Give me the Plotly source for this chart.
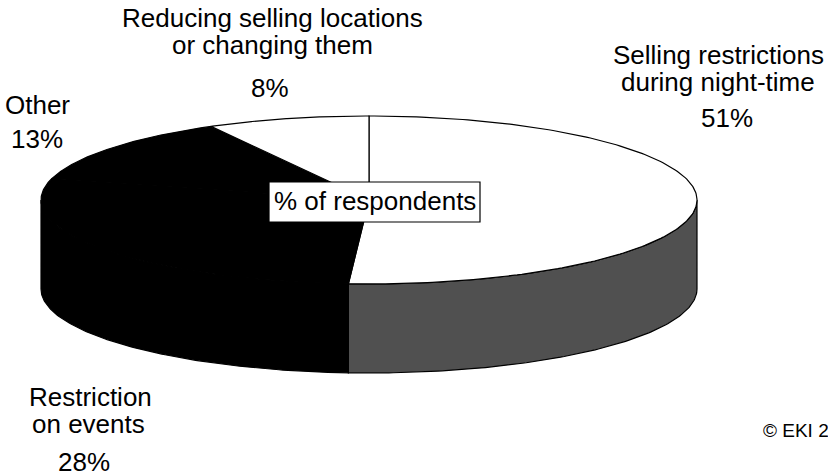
import numpy as np
import plotly.graph_objects as go

# ---- data ----
labels = ["Selling restrictions during night-time", "Restriction on events",
          "Other", "Reducing selling locations or changing them"]
values = [51, 28, 13, 8]
top_colors = ["#ffffff", "#000000", "#000000", "#ffffff"]
side_colors = ["#505050", "#000000", "#000000", "#ffffff"]

label_lines = [
    ["Selling restrictions", "during night-time", "51%"],
    ["Restriction", "on events", "28%"],
    ["Other", "13%"],
    ["Reducing selling locations", "or changing them", "8%"],
]
center_label = "% of respondents"
copyright_text = "© EKI 20"

# ---- geometry (pixel space of the 828x475 canvas) ----
W, H = 828, 475
cx, cy, rx, ry, depth = 369, 200, 328, 84, 89


def ell(theta_deg, dy=0.0):
    t = np.radians(theta_deg)
    return cx + rx * np.sin(t), cy - ry * np.cos(t) + dy


fig = go.Figure()

total = float(sum(values))
bounds = np.concatenate([[0], np.cumsum(values) / total * 360.0])

# side walls (front half only: 90..270 deg clockwise from top)
for i in range(len(values)):
    a1, a2 = max(bounds[i], 90.0), min(bounds[i + 1], 270.0)
    if a2 <= a1:
        continue
    th = np.linspace(a1, a2, 120)
    xt, yt = ell(th)
    xb, yb = ell(th[::-1], depth)
    xs = np.concatenate([xt, xb, [xt[0]]])
    ys = np.concatenate([yt, yb, [yt[0]]])
    fig.add_trace(go.Scatter(x=xs, y=ys, fill="toself", mode="lines",
                             fillcolor=side_colors[i],
                             line=dict(color="#000000", width=1.2),
                             hoverinfo="skip", showlegend=False))

# top faces
for i in range(len(values)):
    th = np.linspace(bounds[i], bounds[i + 1], 200)
    xt, yt = ell(th)
    xs = np.concatenate([[cx], xt, [cx]])
    ys = np.concatenate([[cy], yt, [cy]])
    fig.add_trace(go.Scatter(x=xs, y=ys, fill="toself", mode="lines",
                             fillcolor=top_colors[i],
                             line=dict(color="#000000", width=1.2),
                             hoverinfo="skip", showlegend=False, name=labels[i]))

font = dict(family="Liberation Sans, Arial, sans-serif", size=26, color="#000000")

# label positions (x centre, y centre of each line) in pixels
label_pos = [
    [(718, 55), (718, 82), (727, 118)],
    [(90, 397), (88, 424), (84, 462)],
    [(37, 105), (37, 139)],
    [(272, 18), (272, 45), (270, 88)],
]
for lines, poss in zip(label_lines, label_pos):
    for txt, (px, py) in zip(lines, poss):
        fig.add_annotation(x=px, y=py, xref="x", yref="y", text=txt,
                           showarrow=False, xanchor="center", yanchor="middle",
                           font=font)

# centre label box
fig.add_shape(type="rect", x0=269, x1=480, y0=182, y1=222, xref="x", yref="y",
              fillcolor="#ffffff", line=dict(color="#000000", width=1.2))
fig.add_annotation(x=374.5, y=201, xref="x", yref="y", text=center_label,
                   showarrow=False, xanchor="center", yanchor="middle", font=font)

fig.add_annotation(x=761, y=430, xref="x", yref="y", text=copyright_text,
                   showarrow=False, xanchor="left", yanchor="middle",
                   font=dict(family="Liberation Sans, Arial, sans-serif", size=19,
                             color="#000000"))

fig.update_xaxes(range=[0, W], visible=False, fixedrange=True)
fig.update_yaxes(range=[H, 0], visible=False, fixedrange=True)
fig.update_layout(width=W, height=H, margin=dict(l=0, r=0, t=0, b=0),
                  paper_bgcolor="#ffffff", plot_bgcolor="#ffffff",
                  showlegend=False)

fig.write_html("out.html", config={"displayModeBar": False},
               post_script="document.body.style.margin='0px';"
                           "document.body.style.overflow='hidden';")
